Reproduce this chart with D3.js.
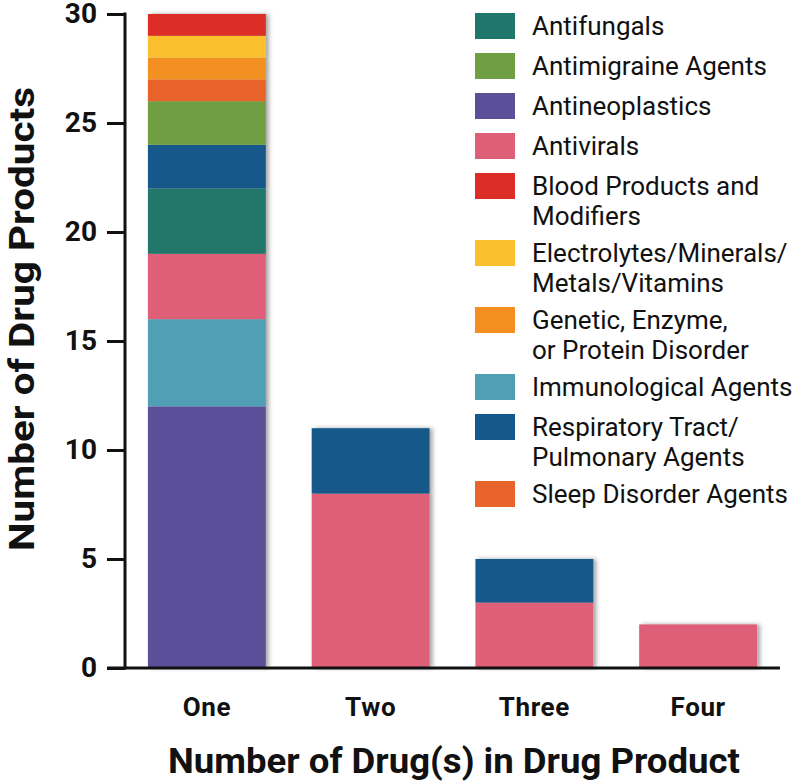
<!DOCTYPE html>
<html><head><meta charset="utf-8">
<script src="https://cdn.jsdelivr.net/npm/d3@7"></script>
<style>body{margin:0;background:#fff}svg{display:block;font-family:Roboto,"Noto Sans",sans-serif}</style>
</head><body><svg id="c" width="795" height="784"></svg>
<script>
const categories = ["One","Two","Three","Four"];
const stackOrder = ["Antineoplastics","Immunological Agents","Antivirals","Antifungals","Respiratory Tract/ Pulmonary Agents","Antimigraine Agents","Sleep Disorder Agents","Genetic, Enzyme, or Protein Disorder","Electrolytes/Minerals/ Metals/Vitamins","Blood Products and Modifiers"];
const antineoplastics = [12,0,0,0];
const immunological = [4,0,0,0];
const antivirals = [3,8,3,2];
const antifungals = [3,0,0,0];
const respiratory = [2,3,2,0];
const antimigraine = [2,0,0,0];
const sleepDisorder = [1,0,0,0];
const genetic = [1,0,0,0];
const electrolytes = [1,0,0,0];
const blood = [1,0,0,0];
const yTicks = [0,5,10,15,20,25,30];
const legendOrder = ["Antifungals","Antimigraine Agents","Antineoplastics","Antivirals","Blood Products and Modifiers","Electrolytes/Minerals/ Metals/Vitamins","Genetic, Enzyme, or Protein Disorder","Immunological Agents","Respiratory Tract/ Pulmonary Agents","Sleep Disorder Agents"];
const legendLines = [["Antifungals"],["Antimigraine Agents"],["Antineoplastics"],["Antivirals"],["Blood Products and","Modifiers"],["Electrolytes/Minerals/","Metals/Vitamins"],["Genetic, Enzyme,","or Protein Disorder"],["Immunological Agents"],["Respiratory Tract/","Pulmonary Agents"],["Sleep Disorder Agents"]];
const colors = {
  "Antifungals":"#20766a",
  "Antimigraine Agents":"#6f9e43",
  "Antineoplastics":"#5b4f9a",
  "Antivirals":"#e05f78",
  "Blood Products and Modifiers":"#dc2d27",
  "Electrolytes/Minerals/ Metals/Vitamins":"#fbc02d",
  "Genetic, Enzyme, or Protein Disorder":"#f39020",
  "Immunological Agents":"#519fb5",
  "Respiratory Tract/ Pulmonary Agents":"#15598a",
  "Sleep Disorder Agents":"#e8642a"
};
const seriesValues = [antineoplastics,immunological,antivirals,antifungals,respiratory,antimigraine,sleepDisorder,genetic,electrolytes,blood];

const table = categories.map((c,i)=>{const o={cat:c};stackOrder.forEach((k,j)=>o[k]=seriesValues[j][i]);return o;});
const stacked = d3.stack().keys(stackOrder)(table);

const svg = d3.select("#c");
const defs = svg.append("defs");
const f = defs.append("filter").attr("id","sh").attr("x","-10%").attr("y","-10%").attr("width","130%").attr("height","130%");
f.append("feDropShadow").attr("dx",3).attr("dy",0).attr("stdDeviation",2).attr("flood-color","#000").attr("flood-opacity",0.35);

const x = d3.scaleBand().domain(categories).range([125,780]).paddingInner(0.28).paddingOuter(0.14);
const y = d3.scaleLinear().domain([0,30]).range([668,14]);

const barG = svg.append("g");
categories.forEach((c,i)=>{
  const g = barG.append("g").attr("filter","url(#sh)");
  stacked.forEach(s=>{
    const d = s[i];
    if (d[1]-d[0] <= 0) return;
    g.append("rect").attr("x",x(c)).attr("width",x.bandwidth())
      .attr("y",y(d[1])).attr("height",y(d[0])-y(d[1])).attr("fill",colors[s.key]);
  });
});

// y axis
const ya = svg.append("g").attr("transform","translate(125,0)")
  .call(d3.axisLeft(y).tickValues(yTicks).tickSize(18).tickPadding(10));
ya.select(".domain").attr("stroke","#111").attr("stroke-width",3).attr("d","M0,12.5V669.5");
ya.selectAll(".tick line").attr("stroke","#111").attr("stroke-width",3);
ya.selectAll(".tick text").attr("font-size",28).attr("font-weight","bold").attr("fill","#111").attr("font-family","Roboto, sans-serif");

// x axis
const xa = svg.append("g").attr("transform","translate(0,668)")
  .call(d3.axisBottom(x).tickSize(0).tickPadding(30));
xa.select(".domain").attr("stroke","#111").attr("stroke-width",3).attr("d","M107,0H780");
xa.selectAll(".tick text").attr("font-size",26).attr("font-weight","bold").attr("fill","#111").attr("font-family","Roboto, sans-serif").attr("letter-spacing",0.6);

// titles
svg.append("text").attr("x",454).attr("y",773).attr("text-anchor","middle")
  .attr("font-size",35).attr("font-weight","bold").attr("fill","#111")
  .attr("textLength",572).attr("lengthAdjust","spacingAndGlyphs").text("Number of Drug(s) in Drug Product");
svg.append("text").attr("transform","translate(34,319) rotate(-90)").attr("text-anchor","middle")
  .attr("font-size",35).attr("font-weight","bold").attr("fill","#111")
  .attr("textLength",464).attr("lengthAdjust","spacingAndGlyphs").text("Number of Drug Products");

// legend
const lg = svg.append("g");
let ly = 13;
legendOrder.forEach((k,i)=>{
  lg.append("rect").attr("x",475).attr("y",ly).attr("width",40).attr("height",26).attr("fill",colors[k]);
  legendLines[i].forEach((t,j)=>{
    lg.append("text").attr("x",532).attr("y",ly+22+j*30)
      .attr("font-size",26).attr("fill","#111").text(t);
  });
  ly += 40 + (legendLines[i].length-1)*27;
});
</script></body></html>
